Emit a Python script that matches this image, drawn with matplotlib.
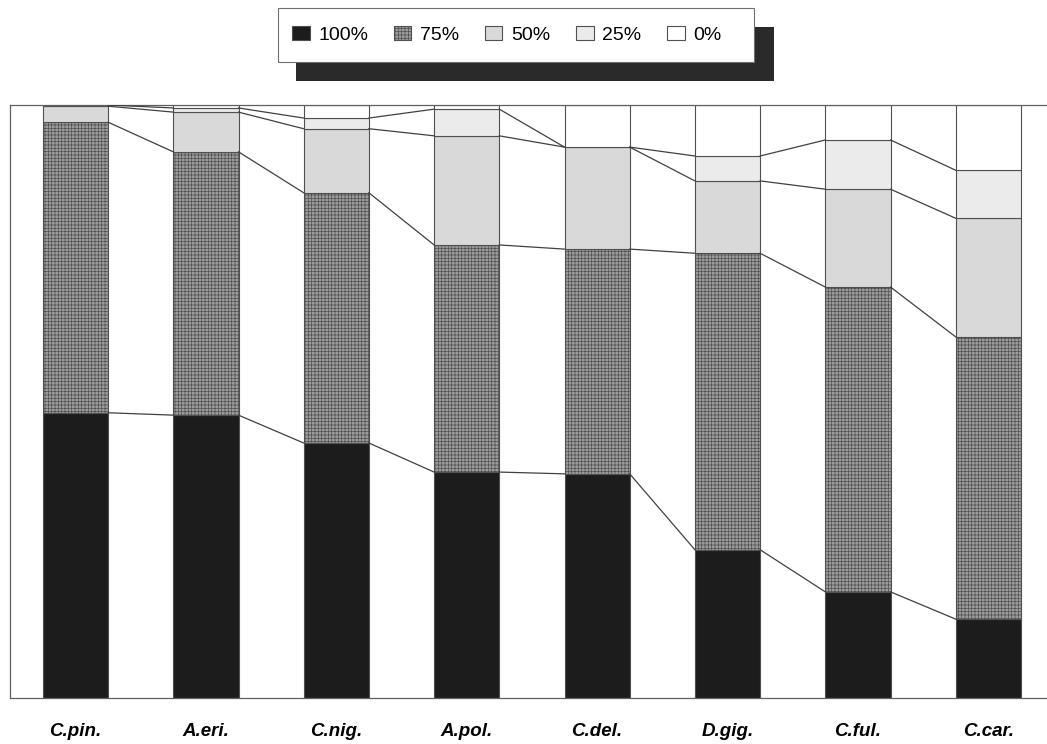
import numpy as np
import matplotlib
matplotlib.use("Agg")
import matplotlib.pyplot as plt
from matplotlib.patches import Rectangle

plt.rcParams['font.family'] = ['Liberation Sans', 'DejaVu Sans']
plt.rcParams['hatch.linewidth'] = 0.5

# species along the x axis
species = ["C.pin.", "A.eri.", "C.nig.", "A.pol.", "C.del.", "D.gig.", "C.ful.", "C.car."]
classes = ["100%", "75%", "50%", "25%", "0%"]

# share of each class per species (percent, stacked from the bottom)
pct_100 = [48.1, 47.7, 43.0, 38.1, 37.8, 25.0, 17.9, 13.3]
pct_75 = [49.0, 44.4, 42.2, 38.3, 37.9, 50.0, 51.4, 47.6]
pct_50 = [2.7, 6.7, 10.8, 18.4, 17.2, 12.2, 16.5, 20.0]
pct_25 = [0.2, 0.7, 1.8, 4.5, 0.0, 4.2, 8.3, 8.1]
pct_0 = [0.0, 0.5, 2.2, 0.7, 7.1, 8.6, 5.9, 11.0]

series = [pct_100, pct_75, pct_50, pct_25, pct_0]
faces = ["#1c1c1c", "#9c9c9c", "#d9d9d9", "#ebebeb", "#ffffff"]
hatches = [None, "+++++", None, None, None]
edge = "#505050"

W, H = 1047, 744
fig = plt.figure(figsize=(W / 100, H / 100), dpi=100)
ax = fig.add_axes([10.3 / W, (H - 698) / H, 1043.2 / W, 593 / H])

x = np.arange(len(species))
width = 0.5
bottom = np.zeros(len(species))
handles = []
for vals, fc, hat, lab in zip(series, faces, hatches, classes):
    vals = np.array(vals)
    b = ax.bar(x, vals, width, bottom=bottom, color=fc, edgecolor=edge,
               linewidth=0.8, hatch=hat, label=lab, zorder=2)
    handles.append(b)
    bottom = bottom + vals

# series lines joining the top of each class between neighbouring bars
cum = np.cumsum(np.array(series), axis=0)
for row in cum[:-1]:
    for i in range(len(species) - 1):
        ax.plot([x[i] + width / 2, x[i + 1] - width / 2], [row[i], row[i + 1]],
                color="#404040", lw=0.9, zorder=3)

ax.set_xlim(-0.5, len(species) - 0.5)
ax.set_ylim(0, 100)
ax.set_yticks([])
ax.set_xticks(x)
ax.set_xticklabels(species, fontsize=13.5, fontweight="bold", fontstyle="italic")
ax.tick_params(axis="x", length=0, pad=18)
for s in ax.spines.values():
    s.set_color("#606060")
    s.set_linewidth(0.9)

# legend frame and its solid drop shadow, drawn by hand
fig.patches.append(Rectangle((296 / W, 1 - 81 / H), 478 / W, 54 / H,
                             transform=fig.transFigure, facecolor="#2a2a2a",
                             edgecolor="none", zorder=0))
fig.patches.append(Rectangle((278 / W, 1 - 62 / H), 476 / W, 54 / H,
                             transform=fig.transFigure, facecolor="white",
                             edgecolor="#707070", linewidth=0.8, zorder=1))
leg = fig.legend(handles=handles, labels=classes, loc="center left",
                 bbox_to_anchor=(292 / W, 1 - 35 / H), ncol=5, frameon=False,
                 fontsize=14, handlelength=0.9, handleheight=0.7,
                 handletextpad=0.45, columnspacing=1.32, borderpad=0,
                 borderaxespad=0)
leg.set_zorder(5)

fig.savefig("out.png", dpi=100)
